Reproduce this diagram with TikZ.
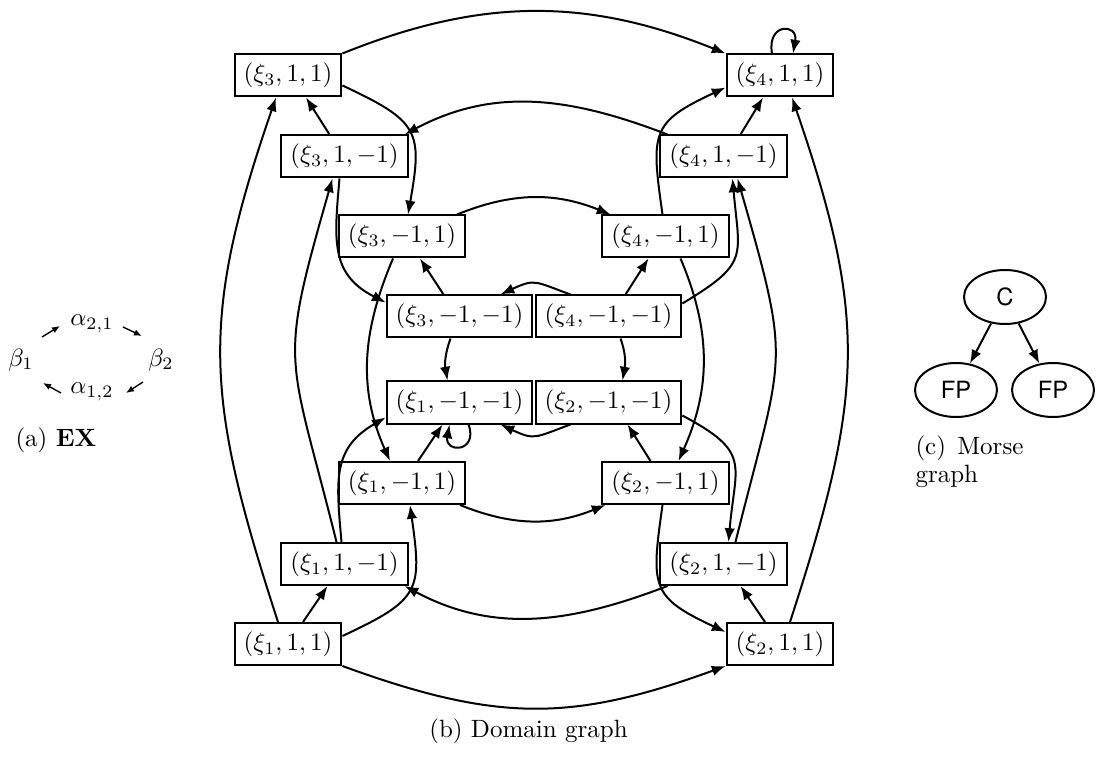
\documentclass[tikz,border=0pt]{standalone}
\usepackage{fontspec}
\newfontfamily\mgfont{TeX Gyre Heros}
\usetikzlibrary{arrows.meta,calc,shapes.geometric}
\begin{document}
\begin{tikzpicture}[x=0.4pt,y=0.4pt,
  dom/.style={draw, line width=0.8pt, inner xsep=3.6pt, inner ysep=3.4pt},
  e/.style={line width=0.8pt, -{Latex[length=5.5pt,width=4.2pt]}},
  sm/.style={line width=0.55pt, -{Latex[length=3.2pt,width=2.6pt]}},
  lab/.style={inner sep=0pt},
  mg/.style={draw, ellipse, line width=0.8pt, minimum width=32.8pt, minimum height=21.6pt, inner sep=0pt, font=\mgfont\fontsize{9.5}{11}\selectfont}]
\useasboundingbox (0,0) rectangle (1098,-771);

% ---------- (a) EX ----------
\node[lab] (b1)  at (21,-360)  {$\beta_1$};
\node[lab] (a21) at (92,-324)  {$\alpha_{2,1}$};
\node[lab] (b2)  at (161,-360) {$\beta_2$};
\node[lab] (a12) at (92,-392)  {$\alpha_{1,2}$};
\draw[sm] ($(b1)+(21,23)$) -- ($(a21)+(-32,-2)$);
\draw[sm] ($(a21)+(31,-3)$) -- ($(b2)+(-19,24)$);
\draw[sm] ($(b2)+(-18,-22)$) -- ($(a12)+(34,-1)$);
\draw[sm] ($(a12)+(-31,-1)$) -- ($(b1)+(22,-23)$);
\node[lab, anchor=base west] (capa) at (15,-446) {(a) \textbf{EX}};

% ---------- (b) Domain graph ----------
\node[dom] (x3_11) at (288,-75.5)    {$(\xi_3,1,1)$};
\node[dom] (x4_11) at (780,-75.5)    {$(\xi_4,1,1)$};
\node[dom] (x3_1m) at (344.5,-156.5) {$(\xi_3,1,-1)$};
\node[dom] (x4_1m) at (723.5,-156.5) {$(\xi_4,1,-1)$};
\node[dom] (x3_m1) at (402,-236.5)   {$(\xi_3,-1,1)$};
\node[dom] (x4_m1) at (665.5,-236.5) {$(\xi_4,-1,1)$};
\node[dom] (x3_mm) at (459.5,-316.5) {$(\xi_3,-1,-1)$};
\node[dom] (x4_mm) at (608.5,-316.5) {$(\xi_4,-1,-1)$};
\node[dom] (x1_mm) at (459.5,-402.5) {$(\xi_1,-1,-1)$};
\node[dom] (x2_mm) at (608.5,-402.5) {$(\xi_2,-1,-1)$};
\node[dom] (x1_m1) at (402,-483)     {$(\xi_1,-1,1)$};
\node[dom] (x2_m1) at (665.5,-483)   {$(\xi_2,-1,1)$};
\node[dom] (x1_1m) at (344.5,-564)   {$(\xi_1,1,-1)$};
\node[dom] (x2_1m) at (723.5,-564)   {$(\xi_2,1,-1)$};
\node[dom] (x1_11) at (288,-644)     {$(\xi_1,1,1)$};
\node[dom] (x2_11) at (780,-644)     {$(\xi_2,1,1)$};

% outer ring
\draw[e] (x3_11.north east) to[out=22,in=158] (x4_11.north west);
\draw[e] ($(x4_11.north)+(-8,0)$) to[out=100,in=80,looseness=3.8] ($(x4_11.north)+(13,0)$);
\draw[e] ($(x1_11.north)+(-10,0)$) to[out=108,in=-109,looseness=1.15] ($(x3_11.south)+(-12,0)$);
\draw[e] (x1_11.south east) to[out=-20,in=-160,looseness=1.1] (x2_11.south west);
\draw[e] ($(x2_11.north)+(10,0)$) to[out=72,in=-71,looseness=1.15] ($(x4_11.south)+(12,0)$);
% corner <-> level 2
\draw[e] ($(x1_11.north)+(15,0)$) -- ($(x1_1m.south)+(-17,0)$);
\draw[e] ($(x3_1m.north)+(-15,0)$) -- ($(x3_11.south)+(18,0)$);
\draw[e] ($(x4_1m.north)+(17,0)$) -- ($(x4_11.south)+(-17,0)$);
\draw[e] ($(x2_11.north)+(-15,0)$) -- ($(x2_1m.south)+(17,0)$);
% level 2
\draw[e] ($(x4_1m.north)+(-56,0)$) to[out=159,in=28] ($(x3_1m.north)+(60,0)$);
\draw[e] ($(x2_1m.south)+(-56,0)$) to[out=-159,in=-28] ($(x1_1m.south)+(60,0)$);
\draw[e] ($(x1_1m.north)+(-8,0)$) to[out=104,in=-106,looseness=1.4] ($(x3_1m.south)+(-12,0)$);
\draw[e] ($(x2_1m.north)+(12,0)$) to[out=76,in=-74,looseness=1.4] ($(x4_1m.south)+(14,0)$);
\draw[e] ($(x3_1m.south)+(-5,0)$) to[out=-95,in=153,looseness=1.2] ($(x3_mm.west)+(0,14)$);
\draw[e] ($(x1_1m.north)+(-3,0)$) to[out=95,in=-150,looseness=1.2] ($(x1_mm.west)+(0,-15)$);
\draw[e] ($(x4_mm.east)+(0,13)$) to[out=31,in=-85,looseness=1.5] ($(x4_1m.south)+(9,0)$);
\draw[e] ($(x2_mm.east)+(0,-13)$) to[out=-28,in=85,looseness=1.5] ($(x2_1m.north)+(5,0)$);
% corner -> level 3
\draw[e] ($(x3_11.east)+(0,-10)$) to[out=-25,in=80,looseness=1.5] ($(x3_m1.north)+(6,0)$);
\draw[e] ($(x1_11.east)+(0,8)$) to[out=25,in=-82,looseness=1.5] ($(x1_m1.south)+(8,0)$);
\draw[e] ($(x4_m1.north)+(-3,0)$) to[out=98,in=-155,looseness=1.5] ($(x4_11.west)+(0,-12)$);
\draw[e] ($(x2_m1.south)+(-3,0)$) to[out=-98,in=155,looseness=1.5] ($(x2_11.west)+(0,12)$);
% level 3
\draw[e] ($(x3_m1.north)+(55,0)$) to[out=22,in=158] ($(x4_m1.north)+(-55,0)$);
\draw[e] ($(x1_m1.south)+(58,0)$) to[out=-22,in=-158] ($(x2_m1.south)+(-60,0)$);
\draw[e] ($(x3_m1.south)+(-9,0)$) to[out=-113,in=114] ($(x1_m1.north)+(-12,0)$);
\draw[e] ($(x4_m1.south)+(15,0)$) to[out=-67,in=66] ($(x2_m1.north)+(13,0)$);
\draw[e] ($(x3_mm.north)+(-16,0)$) -- ($(x3_m1.south)+(18,0)$);
\draw[e] ($(x4_mm.north)+(17,0)$) -- ($(x4_m1.south)+(-17,0)$);
\draw[e] ($(x1_m1.north)+(16,0)$) -- ($(x1_mm.south)+(-17,0)$);
\draw[e] ($(x2_m1.north)+(-15,0)$) -- ($(x2_mm.south)+(19,0)$);
% centre
\draw[e] ($(x4_mm.north)+(-38,0)$) to[out=160,in=25,looseness=1.4] ($(x3_mm.north)+(41,0)$);
\draw[e] ($(x2_mm.south)+(-38,0)$) to[out=-160,in=-25,looseness=1.4] ($(x1_mm.south)+(41,0)$);
\draw[e] ($(x3_mm.south)+(-9,0)$) to[out=-110,in=100] ($(x1_mm.north)+(-12,0)$);
\draw[e] ($(x4_mm.south)+(12,0)$) to[out=-70,in=80] ($(x2_mm.north)+(14,0)$);
\draw[e] ($(x1_mm.south)+(9,0)$) to[out=-70,in=-100,looseness=4] ($(x1_mm.south)+(-10,0)$);

\node[lab, anchor=base] (capb) at (528.5,-737) {(b) Domain graph};

% ---------- (c) Morse graph ----------
\node[mg] (C)   at (1005,-297) {C};
\node[mg] (FP1) at (956,-390)  {FP};
\node[mg] (FP2) at (1053,-390) {FP};
\draw[e] (C) -- (FP1);
\draw[e] (C) -- (FP2);
\node[lab, anchor=base west] (capc1) at (915,-454) {(c)\hspace{4.5pt}Morse};
\node[lab, anchor=base west] (capc2) at (915,-482) {graph};
\end{tikzpicture}
\end{document}
